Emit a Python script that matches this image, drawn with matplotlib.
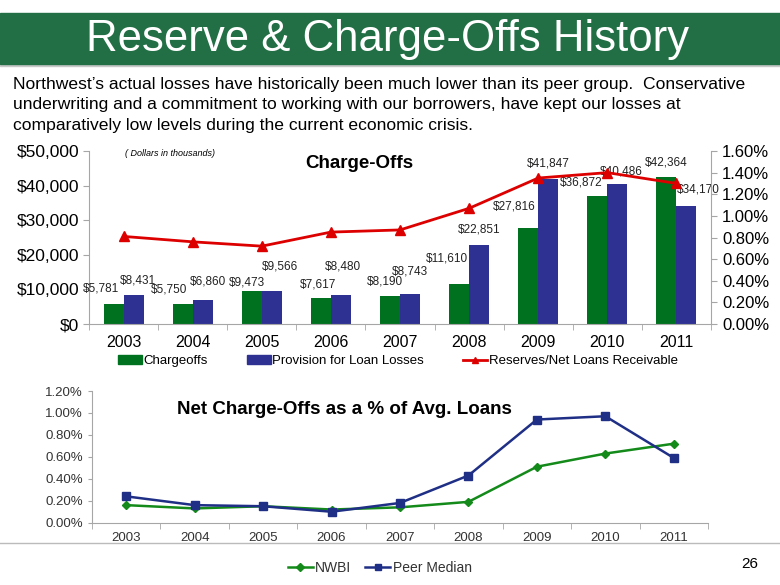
import matplotlib.pyplot as plt
import matplotlib.patches as mpatches
from matplotlib.lines import Line2D
from matplotlib.ticker import FuncFormatter, FixedLocator
import numpy as np

plt.rcParams['font.family'] = ['Liberation Sans', 'DejaVu Sans']

# data (dollars in thousands)
years = ['2003', '2004', '2005', '2006', '2007', '2008', '2009', '2010', '2011']
chargeoffs = [5781, 5750, 9473, 7617, 8190, 11610, 27816, 36872, 42364]
provision = [8431, 6860, 9566, 8480, 8743, 22851, 41847, 40486, 34170]
reserves_pct = [0.81, 0.76, 0.72, 0.85, 0.87, 1.07, 1.35, 1.40, 1.30]
nwbi_pct = [0.16, 0.13, 0.15, 0.12, 0.14, 0.19, 0.51, 0.63, 0.72]
peer_pct = [0.24, 0.16, 0.15, 0.10, 0.18, 0.43, 0.94, 0.97, 0.59]

# label offsets in pixels (dx, dy) relative to the bar top
green_off = [(-13, 9), (-14, 9), (-5, 3), (-3, 7), (-5, 8), (-12, 19), (-14, 15), (-16, 8), (0, 9)]
blue_off = [(4, 8), (5, 13), (8, 18), (2, 22), (0, 16), (0, 9), (0, 10), (4, 6), (12, 10)]

c_green = '#00721F'
c_blue = '#2E3192'
c_red = '#DD0000'
c_grey = '#A6A6A6'

fig = plt.figure(figsize=(7.8, 5.85), dpi=100, facecolor='w')

# header band
fig.patches.append(mpatches.Rectangle((0, 1 - 66 / 585), 1, 2 / 585, transform=fig.transFigure,
                                      color='#C8C8C8', zorder=0))
fig.patches.append(mpatches.Rectangle((0, 1 - 64 / 585), 1, 51 / 585, transform=fig.transFigure,
                                      color='#226F46', zorder=1))
fig.text(0.497, 1 - 39 / 585, 'Reserve & Charge-Offs History', color='w', fontsize=31.5,
         ha='center', va='center')

fig.text(0.017, 1 - 77 / 585,
         'Northwest\u2019s actual losses have historically been much lower than its peer group.  Conservative\n'
         'underwriting and a commitment to working with our borrowers, have kept our losses at\n'
         'comparatively low levels during the current economic crisis.',
         fontsize=12.6, va='top', ha='left', linespacing=1.45)

# ---- top chart ----
x = np.arange(len(years))
w = 0.29
ax = fig.add_axes([89 / 780, 1 - 324 / 585, (711 - 89) / 780, 173 / 585])
ax.bar(x - w / 2, chargeoffs, w, color=c_green, zorder=2)
ax.bar(x + w / 2, provision, w, color=c_blue, zorder=2)
ax.set_xlim(-0.5, 8.5)
ax.set_ylim(0, 50000)
ax.set_yticks(np.arange(0, 50001, 10000))
ax.yaxis.set_major_formatter(FuncFormatter(lambda v, p: f'${v:,.0f}'))
ax.set_xticks(x)
ax.set_xticklabels(years)
ax.xaxis.set_minor_locator(FixedLocator(np.arange(-0.5, 9, 1)))
ax.tick_params(axis='x', which='major', length=0, labelsize=11.5, pad=8)
ax.tick_params(axis='x', which='minor', length=4, color=c_grey)
ax.tick_params(axis='y', labelsize=12.5, length=4, color=c_grey, pad=3)
for s in ['top', 'right']:
    ax.spines[s].set_visible(False)
for s in ['left', 'bottom']:
    ax.spines[s].set_color(c_grey)

for i in range(len(years)):
    ax.annotate(f'${chargeoffs[i]:,}', (x[i] - w / 2, chargeoffs[i]), xytext=green_off[i],
                textcoords='offset pixels', ha='center', va='bottom', fontsize=8.5, color='#222222')
    ax.annotate(f'${provision[i]:,}', (x[i] + w / 2, provision[i]), xytext=blue_off[i],
                textcoords='offset pixels', ha='center', va='bottom', fontsize=8.5, color='#222222')

ax2 = ax.twinx()
ax2.plot(x, reserves_pct, color=c_red, lw=2, marker='^', ms=7, zorder=3)
ax2.set_ylim(0, 1.6)
ax2.set_yticks(np.arange(0, 1.61, 0.2))
ax2.yaxis.set_major_formatter(FuncFormatter(lambda v, p: f'{v:.2f}%'))
ax2.tick_params(axis='y', labelsize=12, length=4, color=c_grey, pad=4)
for s in ['top', 'left', 'bottom']:
    ax2.spines[s].set_visible(False)
ax2.spines['right'].set_color(c_grey)

ax.text(0.435, 0.93, 'Charge-Offs', transform=ax.transAxes, fontsize=13.5, fontweight='bold',
        ha='center', va='center')
ax.text(0.058, 0.985, '( Dollars in thousands)', transform=ax.transAxes, fontsize=6.5,
        style='italic', ha='left', va='center')

h1 = [mpatches.Patch(color=c_green), mpatches.Patch(color=c_blue),
      Line2D([], [], color=c_red, lw=2, marker='^', ms=5)]
fig.legend(h1, ['Chargeoffs', 'Provision for Loan Losses', 'Reserves/Net Loans Receivable'],
           loc='center', bbox_to_anchor=(0.51, 1 - 361 / 585), ncol=3, frameon=False,
           fontsize=9.5, handlelength=1.8, handletextpad=0.1, columnspacing=3.0)

# ---- bottom chart ----
bx = fig.add_axes([92 / 780, 1 - 522.7 / 585, (708 - 92) / 780, 131.7 / 585])
bx.plot(x, nwbi_pct, color='#138A1A', lw=1.8, marker='D', ms=4.5)
bx.plot(x, peer_pct, color='#1F2F86', lw=1.8, marker='s', ms=6)
bx.set_xlim(-0.5, 8.5)
bx.set_ylim(0, 1.2)
bx.set_yticks(np.arange(0, 1.21, 0.2))
bx.yaxis.set_major_formatter(FuncFormatter(lambda v, p: f'{v:.2f}%'))
bx.set_xticks(x)
bx.set_xticklabels(years)
bx.xaxis.set_minor_locator(FixedLocator(np.arange(-0.5, 9, 1)))
bx.tick_params(axis='x', which='major', length=0, labelsize=9.5, pad=7, labelcolor='#333333')
bx.tick_params(axis='x', which='minor', length=4, color=c_grey)
bx.tick_params(axis='y', labelsize=9.5, length=3, color=c_grey, labelcolor='#333333')
for s in ['top', 'right']:
    bx.spines[s].set_visible(False)
for s in ['left', 'bottom']:
    bx.spines[s].set_color(c_grey)
bx.text(0.41, 0.86, 'Net Charge-Offs as a % of Avg. Loans', transform=bx.transAxes,
        fontsize=13.5, fontweight='bold', ha='center', va='center')

fig.add_artist(Line2D([0, 1], [1 - 543 / 585, 1 - 543 / 585], color='#BBBBBB', lw=1))

h2 = [Line2D([], [], color='#138A1A', lw=1.8, marker='D', ms=4),
      Line2D([], [], color='#1F2F86', lw=1.8, marker='s', ms=5)]
fig.legend(h2, ['NWBI', 'Peer Median'], loc='center', bbox_to_anchor=(0.487, 1 - 568 / 585),
           ncol=2, frameon=False, fontsize=10, handlelength=1.8, handletextpad=0.2,
           columnspacing=1.0, labelcolor='#333333')

fig.text(750 / 780, 1 - 564 / 585, '26', fontsize=11, ha='center', va='center')

plt.savefig('out.png', dpi=100)
